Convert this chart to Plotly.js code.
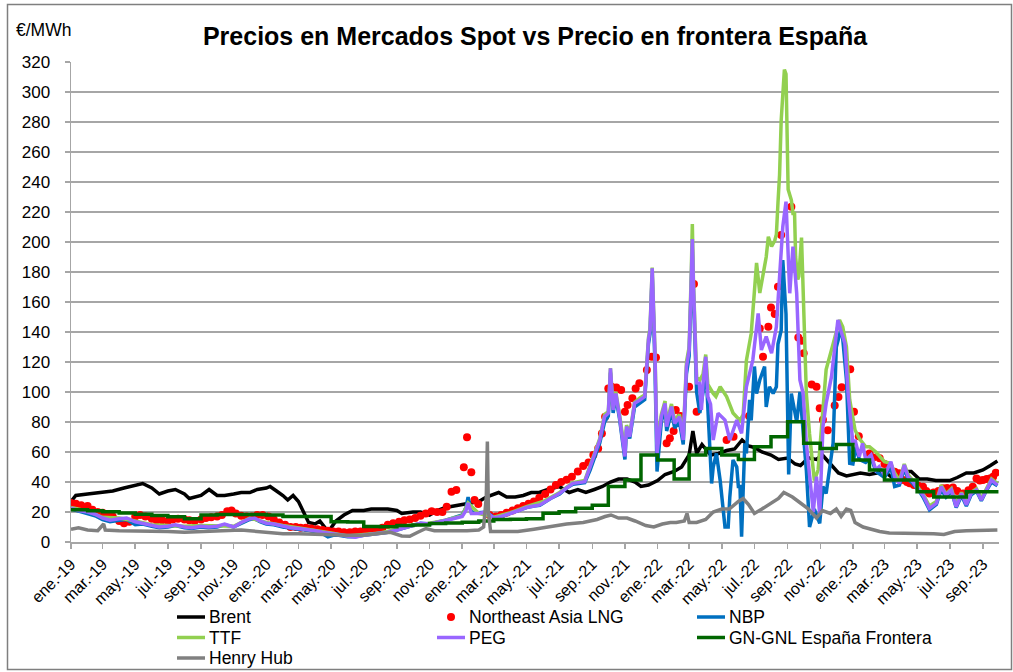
<!DOCTYPE html>
<html>
<head>
<meta charset="utf-8">
<script src="https://cdn.plot.ly/plotly-3.0.1.min.js"></script>
<style>
  html, body { margin: 0; padding: 0; background: #ffffff; }
  #chart { width: 1013px; height: 672px; }
</style>
</head>
<body>
<div id="chart"></div>
<script>
// ---------- DATA ----------
const seriesNames = ['Brent', 'Northeast Asia LNG', 'NBP', 'TTF', 'PEG', 'GN-GNL España Frontera', 'Henry Hub'];
const seriesColors = ['#000000', '#ff0000', '#0070c0', '#92d050', '#9966ff', '#006600', '#808080'];
const monthShort = ['ene.','feb.','mar.','abr.','may.','jun.','jul.','ago.','sep.','oct.','nov.','dic.'];
const monthLong = ['enero','febrero','marzo','abril','mayo','junio','julio','agosto','septiembre','octubre','noviembre','diciembre'];

const brent = [['2019-01-01',27],['2019-01-10',31],['2019-02-01',32],['2019-03-01',33],['2019-03-20',34],['2019-04-10',36],['2019-05-01',38],['2019-05-15',39],['2019-06-01',36],['2019-06-15',32],['2019-07-01',34],['2019-07-15',35],['2019-08-01',32],['2019-08-10',29],['2019-09-01',31],['2019-09-16',35],['2019-10-01',31],['2019-10-15',31],['2019-11-01',32],['2019-11-15',33],['2019-12-01',33],['2019-12-15',35],['2020-01-01',36],['2020-01-08',37],['2020-01-20',34],['2020-02-01',31],['2020-02-10',28],['2020-02-20',31],['2020-03-01',27],['2020-03-09',21],['2020-03-20',13],['2020-04-01',12],['2020-04-10',14],['2020-04-21',9],['2020-04-28',8],['2020-05-10',14],['2020-05-25',18],['2020-06-10',21],['2020-07-01',21],['2020-07-15',22],['2020-08-01',22],['2020-08-15',22],['2020-09-01',21],['2020-09-10',19],['2020-10-01',20],['2020-10-15',20],['2020-11-01',18],['2020-11-15',21],['2020-12-01',23],['2020-12-15',24],['2021-01-01',25],['2021-01-15',26],['2021-02-01',27],['2021-02-15',30],['2021-03-05',32],['2021-03-10',33],['2021-03-25',30],['2021-04-10',30],['2021-04-25',31],['2021-05-10',33],['2021-05-25',33],['2021-06-10',35],['2021-07-01',37],['2021-07-20',33],['2021-08-05',35],['2021-08-20',33],['2021-09-05',35],['2021-09-20',37],['2021-10-05',40],['2021-10-20',42],['2021-11-05',42],['2021-11-20',40],['2021-12-01',37],['2021-12-15',38],['2022-01-01',41],['2022-01-15',45],['2022-02-01',47],['2022-02-15',50],['2022-03-01',58],['2022-03-08',74],['2022-03-15',59],['2022-03-25',65],['2022-04-10',58],['2022-04-25',59],['2022-05-10',61],['2022-05-25',62],['2022-06-08',68],['2022-06-20',64],['2022-07-01',63],['2022-07-15',60],['2022-08-01',58],['2022-08-15',55],['2022-09-01',56],['2022-09-15',52],['2022-09-25',51],['2022-10-10',56],['2022-10-25',55],['2022-11-05',58],['2022-11-20',52],['2022-12-05',46],['2022-12-20',44],['2023-01-01',45],['2023-01-15',46],['2023-02-01',45],['2023-02-15',46],['2023-03-01',47],['2023-03-15',43],['2023-04-05',47],['2023-04-20',47],['2023-05-05',42],['2023-05-20',42],['2023-06-05',41],['2023-06-20',41],['2023-07-01',41],['2023-07-15',43],['2023-08-01',46],['2023-08-15',46],['2023-09-01',48],['2023-09-15',51],['2023-09-28',54]];

const lng = [['2019-01-01',26],['2019-01-10',25.5],['2019-01-20',24.5],['2019-02-01',24],['2019-02-10',21.5],['2019-02-20',20],['2019-03-01',19.5],['2019-03-10',18],['2019-03-20',17],['2019-04-01',14],['2019-04-10',12.5],['2019-04-20',13.5],['2019-05-01',17],['2019-05-10',18],['2019-05-20',17],['2019-06-01',15.5],['2019-06-10',14.5],['2019-06-20',14.5],['2019-07-01',14],['2019-07-10',15],['2019-07-20',15.5],['2019-08-01',15],['2019-08-10',14.5],['2019-08-20',14],['2019-09-01',15],['2019-09-10',16],['2019-09-20',16.5],['2019-10-01',17],['2019-10-10',18],['2019-10-20',20.5],['2019-10-28',21],['2019-11-05',19],['2019-11-15',17.5],['2019-11-25',17],['2019-12-05',17],['2019-12-15',18],['2019-12-25',18],['2020-01-05',17],['2020-01-15',15],['2020-01-25',13],['2020-02-05',11.5],['2020-02-15',10],['2020-02-25',10],['2020-03-05',9.5],['2020-03-15',9.5],['2020-03-25',9],['2020-04-05',8.5],['2020-04-15',8],['2020-04-25',7.5],['2020-05-05',7],['2020-05-15',7],['2020-05-25',6.5],['2020-06-05',6.5],['2020-06-15',7],['2020-06-25',7],['2020-07-05',7.5],['2020-07-15',7.5],['2020-07-25',8],['2020-08-05',9.5],['2020-08-15',11.5],['2020-08-25',12.5],['2020-09-05',13.5],['2020-09-15',14.5],['2020-09-25',15],['2020-10-05',16],['2020-10-15',17.5],['2020-10-25',19],['2020-11-05',20.5],['2020-11-15',20],['2020-11-25',20],['2020-12-03',23.5],['2020-12-12',33.5],['2020-12-21',34.7],['2021-01-04',49.8],['2021-01-10',69.8],['2021-01-18',46.5],['2021-01-24',28],['2021-01-31',25.3],['2021-02-21',18],['2021-03-05',17],['2021-03-15',18],['2021-03-25',19.5],['2021-04-05',21],['2021-04-15',22.5],['2021-04-25',24],['2021-05-05',25.5],['2021-05-15',27],['2021-05-25',29.5],['2021-06-05',32],['2021-06-15',35],['2021-06-25',38],['2021-07-05',40],['2021-07-15',41.5],['2021-07-25',43.5],['2021-08-05',47],['2021-08-15',50.7],['2021-08-25',53],['2021-09-03',58],['2021-09-12',62.4],['2021-09-19',72.4],['2021-09-25',83.5],['2021-10-01',102.4],['2021-10-07',103.5],['2021-10-16',103],['2021-10-25',101.3],['2021-11-01',86.9],['2021-11-06',91.3],['2021-11-15',95.8],['2021-11-21',102.4],['2021-11-28',105.8],['2021-12-12',114.7],['2021-12-21',123.5],['2021-12-29',123],['2022-01-18',65.8],['2022-01-24',69.1],['2022-01-31',74],['2022-02-04',88],['2022-02-13',84],['2022-03-01',103.5],['2022-03-10',172],['2022-03-15',86.9],['2022-05-10',68],['2022-05-23',70.2],['2022-06-21',84],['2022-07-11',142.4],['2022-07-17',123.5],['2022-07-27',143.5],['2022-08-01',156.4],['2022-08-08',152],['2022-08-14',170.2],['2022-08-20',204.7],['2022-09-08',223.5],['2022-09-21',136.4],['2022-09-27',134.2],['2022-10-01',125.8],['2022-10-16',105],['2022-10-25',103.5],['2022-10-31',89.1],['2022-11-06',81.5],['2022-11-15',74.5],['2022-11-28',91],['2022-12-05',96.7],['2022-12-11',103.1],['2022-12-27',115.1],['2023-01-03',86.9],['2023-01-12',70.5],['2023-02-01',59],['2023-02-08',56.4],['2023-02-20',55.8],['2023-03-01',52],['2023-03-11',49.1],['2023-03-20',46.9],['2023-03-28',45.8],['2023-04-05',41.3],['2023-04-12',40],['2023-04-17',39.1],['2023-04-25',38],['2023-05-03',37.5],['2023-05-12',36.9],['2023-05-18',34],['2023-05-24',32.4],['2023-06-01',33],['2023-06-10',34],['2023-06-18',35.8],['2023-06-26',36],['2023-07-07',36.4],['2023-07-15',34],['2023-07-26',32.4],['2023-08-05',34.5],['2023-08-13',36.9],['2023-08-20',42.4],['2023-08-26',41],['2023-09-01',41.3],['2023-09-08',42],['2023-09-14',42.4],['2023-09-20',43.5],['2023-09-25',46.2]];

const nbp = [['2019-01-01',22],['2019-01-15',20.5],['2019-02-01',19],['2019-02-15',17.5],['2019-03-01',15],['2019-03-15',13.5],['2019-04-01',14.5],['2019-04-15',15],['2019-05-01',11.5],['2019-05-15',12],['2019-06-01',10.5],['2019-06-15',9.5],['2019-07-01',10],['2019-07-15',11],['2019-08-01',9.5],['2019-08-15',9],['2019-09-01',10],['2019-09-15',9.5],['2019-10-01',10],['2019-10-15',11.5],['2019-11-01',10],['2019-11-15',12.5],['2019-12-01',15],['2019-12-10',15.5],['2019-12-20',13.5],['2020-01-01',12],['2020-01-15',11.5],['2020-02-01',10],['2020-02-15',9],['2020-03-01',8.5],['2020-03-15',8],['2020-04-01',7],['2020-04-15',5.5],['2020-04-25',3.5],['2020-05-05',4.5],['2020-05-15',4.5],['2020-06-01',3.5],['2020-06-15',3.5],['2020-07-01',4.5],['2020-07-15',5],['2020-08-01',5.5],['2020-08-15',6.5],['2020-09-01',8],['2020-09-15',9.5],['2020-10-01',11],['2020-10-15',12.5],['2020-11-01',12],['2020-11-15',13],['2020-12-01',14.5],['2020-12-15',16],['2021-01-01',18],['2021-01-08',23],['2021-01-12',30],['2021-01-18',20],['2021-02-01',19.5],['2021-02-15',20],['2021-03-01',16.5],['2021-03-15',17],['2021-04-01',19],['2021-04-15',21],['2021-05-01',23],['2021-05-15',24],['2021-05-26',24.5],['2021-06-15',29],['2021-07-02',32],['2021-07-15',36],['2021-07-27',38.5],['2021-08-18',39.5],['2021-08-28',48],['2021-09-15',66],['2021-09-24',80],['2021-10-01',84],['2021-10-05',113],['2021-10-10',86],['2021-10-15',97],['2021-10-22',82],['2021-11-01',55],['2021-11-04',75],['2021-11-10',69],['2021-11-19',90],['2021-11-29',93],['2021-12-08',95],['2021-12-15',132],['2021-12-18',139],['2021-12-22',178],['2021-12-27',120],['2021-12-31',47],['2022-01-08',80],['2022-01-15',90],['2022-01-18',74],['2022-01-27',87],['2022-02-02',76],['2022-02-11',80],['2022-02-18',65],['2022-02-24',112],['2022-03-01',124],['2022-03-05',170],['2022-03-07',195],['2022-03-09',165],['2022-03-12',125],['2022-03-15',100],['2022-03-21',86],['2022-03-27',100],['2022-04-01',118],['2022-04-09',59],['2022-04-12',39],['2022-04-15',50],['2022-04-21',59],['2022-04-28',41],['2022-05-07',10],['2022-05-13',10],['2022-05-16',30],['2022-05-22',54.7],['2022-05-29',50],['2022-06-01',37],['2022-06-04',37],['2022-06-07',3.6],['2022-06-13',65.8],['2022-06-16',59],['2022-06-22',94.7],['2022-06-25',81],['2022-07-01',117],['2022-07-05',99],['2022-07-11',108],['2022-07-20',117],['2022-07-23',90],['2022-07-29',103.5],['2022-08-05',99],['2022-08-11',103.5],['2022-08-14',132],['2022-08-20',141],['2022-08-23',188],['2022-08-29',152],['2022-09-03',45],['2022-09-08',99],['2022-09-18',80],['2022-09-24',100],['2022-10-06',48],['2022-10-12',10],['2022-10-21',22],['2022-10-31',12.4],['2022-11-06',37],['2022-11-12',32.4],['2022-11-18',50],['2022-11-25',65.8],['2022-12-01',130],['2022-12-11',143.5],['2022-12-20',108],['2022-12-26',52.4],['2023-01-01',52],['2023-01-07',63.5],['2023-01-13',55],['2023-01-25',53],['2023-02-04',56],['2023-02-13',47],['2023-03-01',43],['2023-03-13',50],['2023-03-20',37],['2023-03-29',38],['2023-04-07',49],['2023-04-14',42],['2023-04-23',39],['2023-05-05',34],['2023-05-12',30],['2023-05-24',21.5],['2023-06-06',25],['2023-06-15',35],['2023-06-24',30],['2023-07-04',34],['2023-07-13',23],['2023-07-23',31],['2023-08-01',24],['2023-08-10',31.5],['2023-08-20',34],['2023-08-29',27.5],['2023-09-07',34],['2023-09-17',40],['2023-09-28',37.5]];

const ttf = [['2019-01-01',23],['2019-02-01',20.5],['2019-03-01',16.5],['2019-04-01',16],['2019-05-01',14],['2019-06-01',11.5],['2019-07-01',11],['2019-08-01',10.5],['2019-09-01',11],['2019-10-01',11],['2019-11-01',10.5],['2019-12-01',16],['2020-01-01',13],['2020-02-01',11],['2020-03-01',9.5],['2020-04-01',8],['2020-05-01',6],['2020-06-01',4],['2020-07-01',5],['2020-08-01',6],['2020-09-01',8.5],['2020-10-01',11.5],['2020-11-01',12.5],['2020-12-01',14.5],['2021-01-01',17.5],['2021-01-12',26],['2021-02-01',19],['2021-03-01',16.5],['2021-04-01',19.5],['2021-05-01',23.5],['2021-06-01',27],['2021-07-02',33],['2021-07-27',39.5],['2021-08-18',41],['2021-08-28',51],['2021-09-15',69],['2021-09-24',85],['2021-10-01',87],['2021-10-05',116],['2021-10-10',89],['2021-10-15',100],['2021-10-22',85],['2021-11-01',60],['2021-11-04',78],['2021-11-10',72],['2021-11-19',93],['2021-11-29',96],['2021-12-08',98],['2021-12-15',136],['2021-12-18',143],['2021-12-22',183],['2021-12-27',130],['2021-12-31',65],['2022-01-08',85],['2022-01-15',94],['2022-01-18',79],['2022-01-27',92],['2022-02-02',81],['2022-02-11',85],['2022-02-18',70],['2022-02-24',120],['2022-03-01',130],['2022-03-05',180],['2022-03-07',212],['2022-03-09',175],['2022-03-12',135],['2022-03-15',110],['2022-03-21',108],['2022-03-27',112],['2022-04-01',125],['2022-04-05',105],['2022-04-15',99],['2022-04-20',97],['2022-04-28',103.5],['2022-05-10',97],['2022-05-22',86],['2022-06-04',81],['2022-06-10',85],['2022-06-16',121],['2022-06-25',139],['2022-07-05',186],['2022-07-11',166],['2022-07-17',179],['2022-07-23',190],['2022-07-27',203.5],['2022-08-02',197],['2022-08-08',201],['2022-08-11',205],['2022-08-14',226],['2022-08-17',245],['2022-08-20',281],['2022-08-24',305],['2022-08-26',315],['2022-08-29',312],['2022-08-31',261],['2022-09-02',235],['2022-09-08',228],['2022-09-11',219],['2022-09-14',219],['2022-09-16',190],['2022-09-20',175],['2022-09-22',177],['2022-09-27',203],['2022-09-30',168],['2022-10-06',99],['2022-10-12',72],['2022-10-21',41],['2022-10-28',48],['2022-11-03',77],['2022-11-12',115],['2022-11-25',132],['2022-12-07',148],['2022-12-13',143.5],['2022-12-20',130],['2022-12-26',95],['2023-01-01',81],['2023-01-05',74.7],['2023-01-13',69],['2023-01-25',63.5],['2023-02-01',63.5],['2023-02-13',60],['2023-03-01',53.5],['2023-03-13',52.4],['2023-03-20',46],['2023-03-29',41],['2023-04-07',52],['2023-04-14',45],['2023-04-23',41],['2023-04-29',38],['2023-05-12',32],['2023-05-24',24],['2023-06-06',27],['2023-06-15',38],['2023-06-24',32],['2023-07-04',35.5],['2023-07-13',25],['2023-07-23',33],['2023-08-01',26],['2023-08-10',33],['2023-08-20',35.5],['2023-08-29',29],['2023-09-07',35.5],['2023-09-17',42],['2023-09-28',39]];

const peg = [['2019-01-01',22.5],['2019-01-15',21],['2019-02-01',20],['2019-02-15',18.5],['2019-03-01',16],['2019-03-15',14.5],['2019-04-01',15.5],['2019-04-15',16],['2019-05-01',13.5],['2019-05-15',12.5],['2019-06-01',11],['2019-06-15',10],['2019-07-01',10.5],['2019-07-15',11.5],['2019-08-01',10],['2019-08-15',9.5],['2019-09-01',10.5],['2019-09-15',10],['2019-10-01',10.5],['2019-10-15',12],['2019-11-01',10],['2019-11-15',13],['2019-12-01',15.5],['2019-12-10',16],['2019-12-20',14],['2020-01-01',12.5],['2020-01-15',12],['2020-02-01',10.5],['2020-02-15',9.5],['2020-03-01',9],['2020-03-15',8.5],['2020-04-01',7.5],['2020-04-15',6.5],['2020-05-01',5.5],['2020-05-15',5],['2020-06-01',3.5],['2020-06-15',3.2],['2020-07-01',4.5],['2020-07-15',5],['2020-08-01',5.5],['2020-08-15',6.5],['2020-09-01',8],['2020-09-15',9.5],['2020-10-01',11],['2020-10-15',12.5],['2020-11-01',12],['2020-11-15',13],['2020-12-01',14],['2020-12-15',15.5],['2021-01-01',17],['2021-01-08',21],['2021-01-12',26],['2021-01-18',19],['2021-02-01',19],['2021-02-15',20],['2021-03-01',16],['2021-03-15',17],['2021-04-01',19],['2021-04-15',21],['2021-05-01',23],['2021-05-15',24],['2021-05-26',24.7],['2021-06-15',29],['2021-07-02',32.4],['2021-07-15',36],['2021-07-27',39.1],['2021-08-18',40.2],['2021-08-28',50.2],['2021-09-15',68],['2021-09-24',83.5],['2021-10-01',85.8],['2021-10-05',115.8],['2021-10-10',88],['2021-10-15',99],['2021-10-22',83.5],['2021-11-01',57],['2021-11-04',76.9],['2021-11-10',70.2],['2021-11-19',92.4],['2021-11-29',94.7],['2021-12-08',96.9],['2021-12-15',134.7],['2021-12-18',141.3],['2021-12-22',182.4],['2021-12-27',128],['2021-12-31',59],['2022-01-08',83.5],['2022-01-15',92.4],['2022-01-18',76.9],['2022-01-27',90.2],['2022-02-02',79.1],['2022-02-11',83.5],['2022-02-18',68],['2022-02-24',116.9],['2022-03-01',128],['2022-03-05',174.7],['2022-03-07',202],['2022-03-09',172],['2022-03-12',132],['2022-03-15',106],['2022-03-20',105.8],['2022-03-24',88],['2022-03-27',105.8],['2022-04-01',123.5],['2022-04-05',96.9],['2022-04-10',92],['2022-04-15',68],['2022-04-24',85.8],['2022-05-07',81.3],['2022-05-16',68],['2022-05-29',81.3],['2022-06-07',72.4],['2022-06-16',103.5],['2022-06-28',121.3],['2022-07-08',152.4],['2022-07-14',128],['2022-07-23',136.9],['2022-08-02',125.8],['2022-08-11',143.5],['2022-08-17',176.9],['2022-08-23',210.2],['2022-08-29',226.9],['2022-09-02',196.9],['2022-09-05',165.8],['2022-09-11',196.9],['2022-09-18',165.8],['2022-09-24',108],['2022-09-30',99.1],['2022-10-06',65.8],['2022-10-12',43.5],['2022-10-19',20],['2022-10-25',43.5],['2022-10-31',18],['2022-11-06',76.9],['2022-11-12',92.4],['2022-11-22',110.2],['2022-11-28',128],['2022-12-04',148],['2022-12-11',139.1],['2022-12-17',132.4],['2022-12-23',99.1],['2023-01-01',65.8],['2023-01-05',68],['2023-01-13',56.9],['2023-01-19',65.8],['2023-01-25',54.7],['2023-02-04',58],['2023-02-13',48],['2023-02-19',50.2],['2023-03-01',44.7],['2023-03-13',53.5],['2023-03-20',43.5],['2023-03-29',39.1],['2023-04-07',51.3],['2023-04-14',43.5],['2023-04-23',40.2],['2023-04-29',36.9],['2023-05-12',31.3],['2023-05-24',22.4],['2023-06-06',25.8],['2023-06-15',36.9],['2023-06-24',31.3],['2023-07-04',34.7],['2023-07-13',23.5],['2023-07-23',32.4],['2023-08-01',24.7],['2023-08-10',32.4],['2023-08-20',34.7],['2023-08-29',28],['2023-09-07',34.7],['2023-09-17',41.3],['2023-09-28',38]];

const gnEspana = [['2019-01-01',21.5],['2019-02-01',20.8],['2019-03-01',20.2],['2019-04-01',19.3],['2019-05-01',18.5],['2019-06-01',17.6],['2019-07-01',16.8],['2019-08-01',15.5],['2019-09-01',18.0],['2019-10-01',18.3],['2019-11-01',18.4],['2019-12-01',18.3],['2020-01-01',18.0],['2020-02-01',17.0],['2020-03-01',17.0],['2020-04-01',17.0],['2020-05-01',13.5],['2020-06-01',13.3],['2020-07-01',10.3],['2020-08-01',10.2],['2020-09-01',11.0],['2020-10-01',11.3],['2020-11-01',12.4],['2020-12-01',12.7],['2021-01-01',13.2],['2021-02-01',14.0],['2021-03-01',15.0],['2021-04-01',15.1],['2021-05-01',15.5],['2021-06-01',19.1],['2021-07-01',20.2],['2021-08-01',22.5],['2021-09-01',24.5],['2021-10-01',37.0],['2021-11-01',41.3],['2021-12-01',58.0],['2022-01-01',54.7],['2022-02-01',42.0],['2022-03-01',58.0],['2022-04-01',62.4],['2022-05-01',58.0],['2022-06-01',55.0],['2022-07-01',63.5],['2022-08-01',70.2],['2022-09-01',80.2],['2022-10-01',65.8],['2022-11-01',62.4],['2022-12-01',65.0],['2023-01-01',54.7],['2023-02-01',48.0],['2023-03-01',41.3],['2023-04-01',41.3],['2023-05-01',33.5],['2023-06-01',30.0],['2023-07-01',30.0],['2023-08-01',33.5],['2023-09-01',33.5],['2023-09-30',33.5]];

const henryHub = [['2019-01-01',8.5],['2019-01-15',9.5],['2019-02-01',8.0],['2019-02-20',7.5],['2019-03-03',12],['2019-03-06',8],['2019-04-01',7.5],['2019-05-01',7.5],['2019-06-01',7],['2019-07-01',7],['2019-08-01',6.5],['2019-09-01',7],['2019-10-01',7.5],['2019-11-01',7.5],['2019-11-15',8],['2019-12-01',7.5],['2020-01-01',6.5],['2020-02-01',5.5],['2020-03-01',5.5],['2020-04-01',5],['2020-05-01',5],['2020-06-01',4.5],['2020-07-01',4.5],['2020-08-01',6],['2020-08-20',6.5],['2020-09-10',4],['2020-09-25',3.8],['2020-10-10',6.5],['2020-10-25',9],['2020-11-10',7.5],['2020-12-01',7.5],['2020-12-20',7],['2021-01-10',7.5],['2021-02-01',8],['2021-02-10',10],['2021-02-15',30],['2021-02-17',67],['2021-02-19',20],['2021-02-23',7],['2021-03-15',7],['2021-04-15',7],['2021-05-15',8.5],['2021-06-15',10.5],['2021-07-15',12],['2021-08-15',13],['2021-09-10',15],['2021-09-25',17],['2021-10-06',18],['2021-10-20',16],['2021-11-05',16],['2021-11-20',14],['2021-12-10',11],['2021-12-25',10],['2022-01-10',12],['2022-01-25',13],['2022-02-05',13],['2022-02-20',14],['2022-02-25',19],['2022-03-01',13],['2022-03-15',13],['2022-04-01',15],['2022-04-15',20],['2022-05-01',22],['2022-05-15',22],['2022-06-01',27],['2022-06-10',29],['2022-06-20',25],['2022-07-01',19],['2022-07-15',22],['2022-08-01',26],['2022-08-15',29],['2022-08-25',33],['2022-09-10',30],['2022-09-25',26],['2022-10-10',22],['2022-10-25',16],['2022-11-05',21],['2022-11-20',19],['2022-12-01',22],['2022-12-10',17],['2022-12-20',22],['2022-12-28',21],['2023-01-05',13],['2023-01-20',10],['2023-02-05',8.5],['2023-02-20',7],['2023-03-10',6],['2023-04-01',6],['2023-04-20',5.5],['2023-05-10',6],['2023-06-01',5.5],['2023-06-20',5],['2023-07-10',7],['2023-08-01',7.5],['2023-08-20',7.5],['2023-09-10',7.5],['2023-09-28',8]];

const yTickValues = [0,20,40,60,80,100,120,140,160,180,200,220,240,260,280,300,320];

// ---------- CHART ----------
const FONT = 'Liberation Sans, Arial, sans-serif';
const xs = a => a.map(p => p[0]);
const ys = a => a.map(p => p[1]);
const LW = 3.5;

function lineTrace(arr, i, extra) {
  return Object.assign({
    type: 'scatter', mode: 'lines', name: seriesNames[i],
    x: xs(arr), y: ys(arr),
    line: { color: seriesColors[i], width: LW },
    hoverinfo: 'skip', showlegend: false
  }, extra || {});
}

const traces = [
  lineTrace(brent, 0),
  { type: 'scatter', mode: 'markers', name: seriesNames[1], x: xs(lng), y: ys(lng),
    marker: { color: seriesColors[1], size: 8, line: { width: 0 } }, hoverinfo: 'skip', showlegend: false },
  lineTrace(nbp, 2),
  lineTrace(ttf, 3),
  lineTrace(peg, 4),
  lineTrace(gnEspana, 5, { line: { color: seriesColors[5], width: LW, shape: 'hv' } }),
  lineTrace(henryHub, 6)
];

// pixel -> paper helpers for the plot area (l=71, t=62, w=928, h=480)
const PX = px => (px - 71) / 928;
const PY = py => (542 - py) / 480;

// legend drawn as shapes + annotations (3 columns, 3 rows like the reference)
const legendItems = [
  { i: 0, col: 0, row: 0, kind: 'line' },
  { i: 1, col: 1, row: 0, kind: 'dot' },
  { i: 2, col: 2, row: 0, kind: 'line' },
  { i: 3, col: 0, row: 1, kind: 'line' },
  { i: 4, col: 1, row: 1, kind: 'line' },
  { i: 5, col: 2, row: 1, kind: 'line' },
  { i: 6, col: 0, row: 2, kind: 'line' }
];
const colText = [207, 467, 727];
const rowY = [617, 637.5, 658];
const legendShapes = [];
const legendAnnots = [];
legendItems.forEach(it => {
  const tx = colText[it.col], ty = rowY[it.row];
  if (it.kind === 'line') {
    legendShapes.push({ type: 'line', xref: 'paper', yref: 'paper',
      x0: PX(tx - 30), x1: PX(tx - 2), y0: PY(ty), y1: PY(ty),
      line: { color: seriesColors[it.i], width: LW } });
  } else {
    legendShapes.push({ type: 'circle', xref: 'paper', yref: 'paper',
      x0: PX(tx - 20), x1: PX(tx - 12), y0: PY(ty - 4), y1: PY(ty + 4),
      line: { width: 0 }, fillcolor: seriesColors[it.i] });
  }
  legendAnnots.push({ text: seriesNames[it.i], xref: 'paper', yref: 'paper',
    x: PX(tx), y: PY(ty), xanchor: 'left', yanchor: 'middle', showarrow: false,
    font: { family: FONT, size: 17.5, color: '#000000' } });
});

const layout = {
  width: 1013, height: 672,
  paper_bgcolor: '#ffffff', plot_bgcolor: '#ffffff',
  font: { family: FONT, color: '#000000', size: 16 },
  margin: { l: 71, r: 14, t: 62, b: 130, autoexpand: false },
  showlegend: false,
  title: { text: '<b>Precios en Mercados Spot vs Precio en frontera España</b>',
           font: { family: FONT, size: 25, color: '#000000' },
           x: 0.5, xref: 'paper', xanchor: 'center', y: 1 - 36/672, yanchor: 'middle' },
  xaxis: {
    type: 'date', range: ['2019-01-01', '2023-10-01'],
    tick0: '2019-01-01', dtick: 'M2', tickformat: '%b-%y', tickangle: -45,
    showgrid: false, showline: true, linecolor: '#a6a6a6', linewidth: 1.5,
    ticks: 'outside', ticklen: 5, tickcolor: '#a6a6a6', tickwidth: 1.5,
    tickfont: { family: FONT, size: 16, color: '#000000' },
    zeroline: false, automargin: false, fixedrange: true
  },
  yaxis: {
    range: [0, 320], tickvals: yTickValues, ticktext: yTickValues.map(String),
    showgrid: true, gridcolor: '#a6a6a6', gridwidth: 1.5,
    showline: true, linecolor: '#a6a6a6', linewidth: 1.5,
    ticks: 'outside', ticklen: 5, tickcolor: '#a6a6a6', tickwidth: 1.5,
    ticklabelstandoff: 11,
    tickfont: { family: FONT, size: 17, color: '#000000' },
    zeroline: false, automargin: false, fixedrange: true
  },
  annotations: [{
    text: '€/MWh', xref: 'paper', yref: 'paper',
    x: PX(14), y: PY(30), xanchor: 'left', yanchor: 'middle',
    showarrow: false, font: { family: FONT, size: 17.5, color: '#000000' }
  }].concat(legendAnnots),
  shapes: [{
    type: 'rect', xref: 'paper', yref: 'paper', layer: 'below',
    x0: PX(7.5), x1: PX(1011.5), y0: PY(669.5), y1: PY(4.5),
    line: { color: '#7f7f7f', width: 1.5 }, fillcolor: 'rgba(0,0,0,0)'
  }].concat(legendShapes)
};

const config = {
  staticPlot: true, displayModeBar: false, locale: 'es-ref',
  locales: { 'es-ref': { dictionary: {}, format: {
    months: monthLong, shortMonths: monthShort,
    days: ['domingo','lunes','martes','miércoles','jueves','viernes','sábado'],
    shortDays: ['dom','lun','mar','mié','jue','vie','sáb'],
    date: '%d/%m/%Y'
  } } }
};

Plotly.newPlot('chart', traces, layout, config);
</script>
</body>
</html>
